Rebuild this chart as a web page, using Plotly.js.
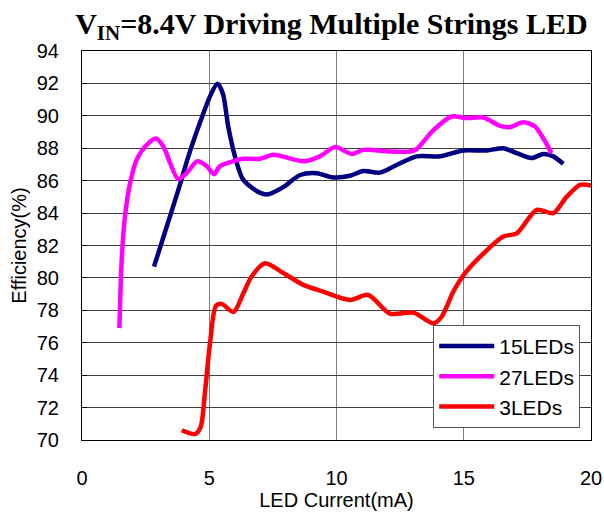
<!DOCTYPE html>
<html>
<head>
<meta charset="utf-8">
<script src="https://cdn.plot.ly/plotly-3.0.1.min.js"></script>
<style>html,body{margin:0;padding:0;background:#fff;}#chart{width:604px;height:516px;}</style>
</head>
<body>
<div id="chart"></div>
<script>
// 15LEDs
const x15 = [2.83, 3.33, 3.78, 4.18, 4.64, 5.03, 5.32, 5.53, 5.75, 6.01, 6.34, 7.0, 7.32, 7.91, 8.57, 9.22, 9.87, 10.53, 11.05, 11.7, 12.36, 13.15, 14.07, 14.98, 15.9, 16.55, 17.08, 17.67, 18.13, 18.52, 18.91];
const y15 = [80.7, 83.17, 85.4, 87.5, 89.6, 91.2, 91.98, 91.4, 89.3, 87.5, 86.05, 85.25, 85.16, 85.6, 86.35, 86.46, 86.2, 86.3, 86.6, 86.5, 86.97, 87.5, 87.5, 87.86, 87.86, 88.0, 87.7, 87.4, 87.65, 87.5, 87.04];
// 27LEDs
const x27 = [1.47, 1.56, 1.69, 1.89, 2.15, 2.54, 2.91, 3.2, 3.46, 3.78, 4.11, 4.53, 4.9, 5.19, 5.42, 5.95, 6.34, 7.0, 7.52, 8.7, 9.35, 9.94, 10.6, 11.05, 12.1, 12.9, 13.15, 13.8, 14.53, 15.1, 15.77, 16.4, 16.8, 17.34, 17.8, 18.13, 18.45];
const y27 = [76.9, 81.1, 83.8, 85.85, 87.3, 88.2, 88.6, 88.1, 87.1, 86.1, 86.46, 87.2, 86.9, 86.4, 86.9, 87.2, 87.35, 87.35, 87.6, 87.2, 87.5, 88.07, 87.65, 87.9, 87.8, 87.8, 87.95, 89.1, 89.96, 89.86, 89.9, 89.4, 89.3, 89.6, 89.34, 88.6, 87.7];
// 3LEDs
const x3 = [3.92, 4.44, 4.66, 4.83, 5.03, 5.27, 5.49, 5.95, 6.34, 6.67, 7.19, 7.91, 8.7, 9.48, 10.53, 11.25, 12.1, 13.02, 13.8, 14.13, 14.59, 15.05, 15.77, 16.55, 17.08, 17.87, 18.52, 19.04, 19.57, 20.0];
const y3 = [70.6, 70.37, 70.8, 72.9, 75.97, 78.3, 78.4, 77.9, 79.05, 80.1, 80.9, 80.3, 79.57, 79.15, 78.64, 78.95, 77.8, 77.86, 77.2, 77.6, 79.15, 80.3, 81.5, 82.55, 82.75, 84.2, 84.0, 85.0, 85.74, 85.7];

const seriesNames = ['15LEDs', '27LEDs', '3LEDs'];
const xTicks = [0, 5, 10, 15, 20];
const yTicks = [70, 72, 74, 76, 78, 80, 82, 84, 86, 88, 90, 92, 94];

const colors = ['#000080', '#FF00FF', '#FF0000'];
const xs = [x15, x27, x3], ys = [y15, y27, y3];
const traces = xs.map((xv, i) => ({
  x: xv, y: ys[i], name: seriesNames[i], type: 'scatter', mode: 'lines',
  line: {color: colors[i], width: 4.5, shape: 'spline', smoothing: 0.8},
  cliponaxis: true
}));

const font = 'Liberation Sans, Arial, sans-serif';
const layout = {
  width: 604, height: 516,
  margin: {l: 82, r: 13, t: 51, b: 76},
  paper_bgcolor: '#fff', plot_bgcolor: '#fff',
  showlegend: true,
  title: {
    text: 'V<sub>IN</sub>=8.4V Driving Multiple Strings LED',
    font: {family: 'Liberation Serif, Times New Roman, serif', size: 30, color: '#000', weight: 'bold'},
    x: 0.49, xref: 'paper', xanchor: 'center', y: 0.955, yref: 'container', yanchor: 'middle'
  },
  xaxis: {
    range: [0, 20], tickvals: xTicks, ticktext: xTicks.map(String),
    showgrid: true, gridcolor: '#808080', gridwidth: 1,
    showline: true, linecolor: '#000', linewidth: 1, mirror: true,
    ticks: 'outside', ticklen: 0, zeroline: false, ticklabelstandoff: 20,
    tickfont: {family: font, size: 20, color: '#000'},
    title: {text: 'LED Current(mA)', font: {family: font, size: 20, color: '#000'}, standoff: 4}
  },
  yaxis: {
    range: [70, 94], tickvals: yTicks, ticktext: yTicks.map(String),
    showgrid: true, gridcolor: '#404040', gridwidth: 1,
    showline: true, linecolor: '#000', linewidth: 1, mirror: true,
    ticks: 'inside', ticklen: 5, tickcolor: '#000', zeroline: false, ticklabelstandoff: 18,
    tickfont: {family: font, size: 20, color: '#000'},
    title: {text: 'Efficiency(%)', font: {family: font, size: 20, color: '#000'}, standoff: 4}
  },
  legend: {
    x: 0.69, y: 0.296, xanchor: 'left', yanchor: 'top',
    bgcolor: '#fff', bordercolor: '#555', borderwidth: 1,
    font: {family: font, size: 21, color: '#000'},
    itemwidth: 55, tracegroupgap: 0
  }
};

Plotly.newPlot('chart', traces, layout, {staticPlot: true, displayModeBar: false});
</script>
</body>
</html>
